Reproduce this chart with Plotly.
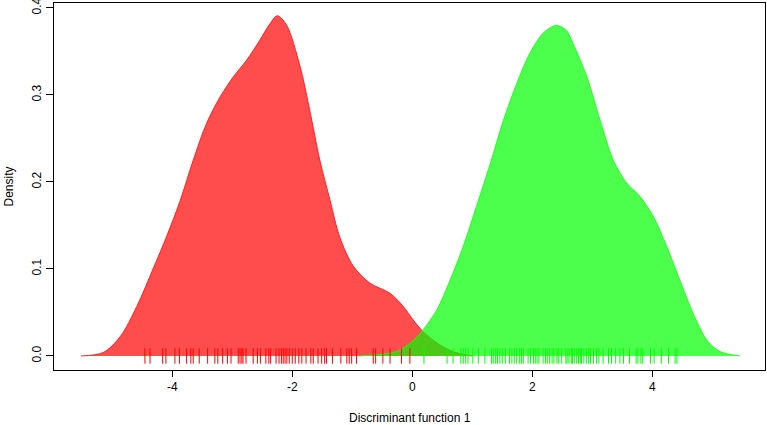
import plotly.graph_objects as go

# Density curve of group 1 (red)
red_x = [-5.52, -5.15, -4.87, -4.59, -4.32, -4.09, -3.87, -3.65, -3.43, -3.20, -2.98, -2.76,
         -2.54, -2.37, -2.25, -2.10, -1.87, -1.71, -1.54, -1.37, -1.21, -0.98, -0.71, -0.37,
         -0.15, 0.02, 0.18, 0.41, 0.68, 1.00]
red_y = [0.0, 0.004, 0.022, 0.057, 0.100, 0.138, 0.178, 0.225, 0.267, 0.298, 0.321, 0.340,
         0.363, 0.382, 0.391, 0.381, 0.333, 0.283, 0.225, 0.179, 0.137, 0.103, 0.084, 0.072,
         0.057, 0.041, 0.028, 0.015, 0.005, 0.0]

# Density curve of group 2 (green)
green_x = [-0.90, -0.26, 0.02, 0.18, 0.41, 0.63, 0.85, 1.07, 1.30, 1.52, 1.74, 1.96, 2.18,
           2.40, 2.57, 2.68, 2.91, 3.13, 3.35, 3.57, 3.80, 4.02, 4.24, 4.46, 4.68, 4.91,
           5.13, 5.46]
green_y = [0.0, 0.005, 0.018, 0.030, 0.053, 0.087, 0.126, 0.172, 0.221, 0.271, 0.313, 0.348,
           0.371, 0.380, 0.374, 0.359, 0.321, 0.271, 0.225, 0.199, 0.183, 0.160, 0.126, 0.087,
           0.049, 0.018, 0.005, 0.0]

# Rug (individual scores)
red_rug = [-4.455, -4.37, -4.16, -4.105, -3.955, -3.88, -3.76, -3.69, -3.65, -3.55, -3.41,
           -3.29, -3.24, -3.16, -3.08, -3.02, -2.90, -2.87, -2.84, -2.82, -2.77, -2.65, -2.58,
           -2.53, -2.44, -2.39, -2.36, -2.27, -2.22, -2.18, -2.15, -2.12, -2.09, -2.05, -2.00,
           -1.95, -1.89, -1.84, -1.77, -1.69, -1.65, -1.57, -1.51, -1.46, -1.43, -1.33, -1.19,
           -1.09, -1.05, -1.01, -0.93, -0.65, -0.61, -0.49, -0.37, -0.18, -0.04]
green_rug = [0.195, 0.58, 0.68, 0.81, 0.85, 0.89, 0.93, 1.01, 1.10, 1.21, 1.32, 1.35, 1.39,
             1.42, 1.46, 1.50, 1.55, 1.62, 1.66, 1.70, 1.74, 1.79, 1.82, 1.85, 1.93, 1.97,
             2.02, 2.05, 2.08, 2.11, 2.18, 2.22, 2.25, 2.29, 2.33, 2.36, 2.41, 2.44, 2.49,
             2.56, 2.58, 2.61, 2.65, 2.67, 2.70, 2.74, 2.77, 2.80, 2.82, 2.86, 2.90, 2.94,
             2.97, 3.02, 3.07, 3.11, 3.18, 3.27, 3.32, 3.39, 3.46, 3.52, 3.62, 3.73, 3.76,
             3.81, 3.84, 3.97, 4.03, 4.15, 4.27, 4.38, 4.41]

x_ticks = [-4, -2, 0, 2, 4]
x_tick_labels = ["-4", "-2", "0", "2", "4"]
y_ticks = [0.0, 0.1, 0.2, 0.3, 0.4]
y_tick_labels = ["0.0", "0.1", "0.2", "0.3", "0.4"]
x_title = "Discriminant function 1"
y_title = "Density"

FONT = "Liberation Sans, Arial, Helvetica, sans-serif"

fig = go.Figure()
fig.add_trace(go.Scatter(x=red_x, y=red_y, mode="lines", fill="toself",
                         fillcolor="rgba(255,0,0,0.7)",
                         line=dict(color="rgba(255,20,20,0.9)", width=1, shape="spline", smoothing=0.9),
                         hoverinfo="skip", showlegend=False))
fig.add_trace(go.Scatter(x=green_x, y=green_y, mode="lines", fill="toself",
                         fillcolor="rgba(0,255,0,0.7)",
                         line=dict(color="rgba(20,255,20,0.9)", width=1, shape="spline", smoothing=0.8),
                         hoverinfo="skip", showlegend=False))
fig.add_trace(go.Scatter(x=red_rug, y=[0] * len(red_rug), mode="markers",
                         marker=dict(symbol="line-ns", size=11, line=dict(width=1, color="#ff0000")),
                         hoverinfo="skip", showlegend=False))
fig.add_trace(go.Scatter(x=green_rug, y=[0] * len(green_rug), mode="markers",
                         marker=dict(symbol="line-ns", size=11, line=dict(width=1, color="#00ff00")),
                         hoverinfo="skip", showlegend=False))

fig.update_layout(
    width=767, height=425,
    margin=dict(l=54, r=2, t=3, b=55, autoexpand=False),
    paper_bgcolor="white", plot_bgcolor="white",
    font=dict(family=FONT, size=12, color="black"),
    xaxis=dict(range=[-5.97, 5.878], tickvals=x_ticks, ticktext=x_tick_labels,
               ticks="outside", ticklen=6, automargin=False, ticklabeloverflow="allow",
               tickcolor="black", showgrid=False, zeroline=False, showline=True,
               linecolor="black", linewidth=1, mirror=True),
    yaxis=dict(range=[-0.0161, 0.4057], tickvals=y_ticks, ticktext=y_tick_labels,
               ticks="outside", ticklen=7, tickangle=-90, automargin=False,
               ticklabeloverflow="allow",
               tickcolor="black", showgrid=False, zeroline=False, showline=True,
               linecolor="black", linewidth=1, mirror=True),
    annotations=[
        dict(text=x_title, xref="paper", yref="paper", x=0.5, y=(370 - 418) / 367,
             xanchor="center", yanchor="middle", showarrow=False,
             font=dict(family=FONT, size=12)),
        dict(text=y_title, xref="paper", yref="paper", x=(8 - 54) / 711, y=0.5,
             xanchor="center", yanchor="middle", textangle=-90, showarrow=False,
             font=dict(family=FONT, size=12)),
    ],
)

fig.write_html("out.html", config={"displayModeBar": False},
               post_script="document.body.style.margin='0';document.body.style.overflow='hidden';")
